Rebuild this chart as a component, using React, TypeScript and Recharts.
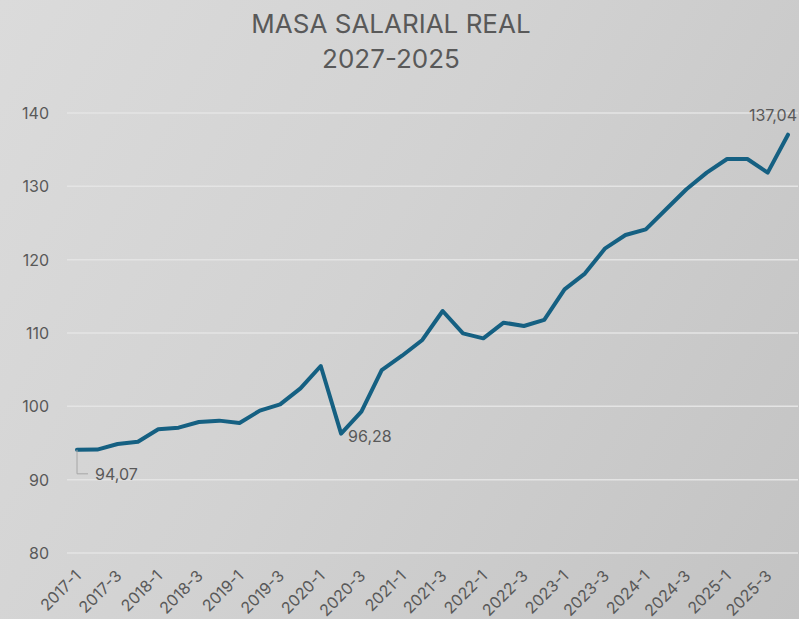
import React from "react";
import { LineChart, Line, XAxis, YAxis, CartesianGrid, LabelList } from "recharts";

const quarters: string[] = [
  "2017-1","2017-2","2017-3","2017-4",
  "2018-1","2018-2","2018-3","2018-4",
  "2019-1","2019-2","2019-3","2019-4",
  "2020-1","2020-2","2020-3","2020-4",
  "2021-1","2021-2","2021-3","2021-4",
  "2022-1","2022-2","2022-3","2022-4",
  "2023-1","2023-2","2023-3","2023-4",
  "2024-1","2024-2","2024-3","2024-4",
  "2025-1","2025-2","2025-3","2025-4",
];

const masaSalarial: number[] = [
  94.07, 94.1, 94.86, 95.18,
  96.87, 97.09, 97.86, 98.05,
  97.73, 99.41, 100.27, 102.45,
  105.5, 96.28, 99.27, 104.95,
  106.9, 109.05, 113.0, 109.95,
  109.27, 111.41, 110.96, 111.78,
  115.95, 118.1, 121.55, 123.36,
  124.14, 126.87, 129.6, 131.87,
  133.73, 133.73, 131.87, 137.04,
];

const yTicks: number[] = [80, 90, 100, 110, 120, 130, 140];
const labeledIndices: number[] = [0, 13, 35];
const titleLines: string[] = ["MASA SALARIAL REAL", "2027-2025"];

const data = quarters.map((q, i) => ({ q, v: masaSalarial[i] }));

const FONT = "Inter, 'Open Sans', sans-serif";
const TEXT = "#595959";

const fmt = (v: number) => v.toFixed(2).replace(".", ",");

const XTick = (props: any) => {
  const { x, payload } = props;
  const ax = x + 5;
  const ay = 577;
  return (
    <text
      x={ax}
      y={ay}
      transform={`rotate(-45, ${ax}, ${ay})`}
      textAnchor="end"
      fill={TEXT}
      fontSize={16}
      fontFamily={FONT}
    >
      {payload.value}
    </text>
  );
};

const YTick = (props: any) => {
  const { y, payload } = props;
  return (
    <text x={49} y={y + 6} textAnchor="end" fill={TEXT} fontSize={16} fontFamily={FONT}>
      {payload.value}
    </text>
  );
};

const PointLabel = (props: any) => {
  const { x, y, index, value } = props;
  if (!labeledIndices.includes(index)) return null;
  if (index === labeledIndices[0]) {
    return (
      <g>
        <polyline
          points={`${x},${y} ${x},${y + 24} ${x + 11},${y + 24}`}
          fill="none"
          stroke="#a6a6a6"
          strokeWidth={1}
        />
        <text x={x + 18} y={y + 30} fill={TEXT} fontSize={16} fontFamily={FONT}>
          {fmt(value)}
        </text>
      </g>
    );
  }
  if (index === labeledIndices[1]) {
    return (
      <text x={x + 7} y={y + 8} fill={TEXT} fontSize={16} fontFamily={FONT}>
        {fmt(value)}
      </text>
    );
  }
  return (
    <text x={x + 9} y={y - 14} textAnchor="end" fill={TEXT} fontSize={16} fontFamily={FONT}>
      {fmt(value)}
    </text>
  );
};

export default function App() {
  return (
    <div
      style={{
        position: "absolute",
        left: 0,
        top: 0,
        width: 799,
        height: 619,
        background: "linear-gradient(120deg, #dbdbdb 0%, #d2d2d2 45%, #c3c3c3 100%)",
        overflow: "hidden",
      }}
    >
      <div
        style={{
          position: "absolute",
          left: 0,
          top: 6,
          width: 782,
          textAlign: "center",
          fontFamily: FONT,
          fontSize: 26,
          lineHeight: "35px",
          color: TEXT,
        }}
      >
        {titleLines.map((t) => (
          <div key={t}>{t}</div>
        ))}
      </div>
      <div style={{ position: "absolute", left: 0, top: 0 }}>
        <LineChart
          width={799}
          height={619}
          data={data}
          margin={{ top: 113, right: 1, left: 0, bottom: 0 }}
        >
          <CartesianGrid vertical={false} stroke="#e4e4e4" strokeWidth={1.5} />
          <XAxis
            dataKey="q"
            interval={1}
            tickLine={false}
            axisLine={false}
            height={66}
            padding={{ left: 10, right: 10 }}
            tick={<XTick />}
          />
          <YAxis
            domain={[80, 140]}
            ticks={yTicks}
            tickLine={false}
            axisLine={false}
            width={67}
            tick={<YTick />}
          />
          <Line
            type="linear"
            dataKey="v"
            stroke="#156082"
            strokeWidth={4}
            dot={false}
            isAnimationActive={false}
            strokeLinejoin="round"
            strokeLinecap="round"
          >
            <LabelList dataKey="v" content={<PointLabel />} />
          </Line>
        </LineChart>
      </div>
    </div>
  );
}
